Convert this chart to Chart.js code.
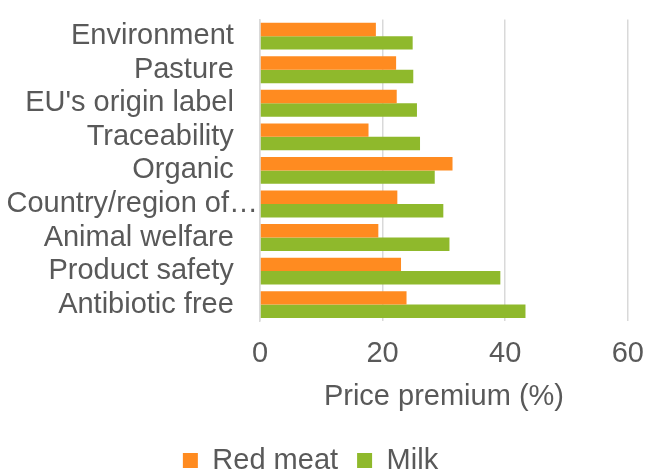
<!DOCTYPE html>
<html>
<head>
<meta charset="utf-8">
<script src="https://cdn.jsdelivr.net/npm/chart.js@4/dist/chart.umd.min.js"></script>
<style>
  html, body { margin: 0; padding: 0; background: #fff; }
  #wrap { width: 647px; height: 470px; position: relative; }
</style>
</head>
<body>
<div id="wrap"><canvas id="chart"></canvas></div>
<script>
const categories = [
    'Environment', 'Pasture', "EU's origin label", 'Traceability', 'Organic',
    'Country/region of\u2026', 'Animal welfare', 'Product safety', 'Antibiotic free'
];
const redMeat = [18.9, 22.2, 22.3, 17.7, 31.4, 22.4, 19.3, 23.0, 23.9];
const milk = [24.9, 25.0, 25.6, 26.1, 28.5, 29.9, 30.9, 39.2, 43.3];
const xTicks = [0, 20, 40, 60];

const textColor = '#595959';
const font = { family: "'Liberation Sans', Arial, sans-serif", size: 29 };

Chart.defaults.font.family = font.family;
Chart.defaults.color = textColor;

new Chart(document.getElementById('chart').getContext('2d'), {
    type: 'bar',
    data: {
        labels: categories,
        datasets: [
            {
                label: 'Red meat',
                data: redMeat,
                backgroundColor: '#FF8B20',
                categoryPercentage: 0.8,
                barPercentage: 1.0,
            },
            {
                label: 'Milk',
                data: milk,
                backgroundColor: '#8FB92C',
                categoryPercentage: 0.8,
                barPercentage: 1.0,
            },
        ],
    },
    options: {
        indexAxis: 'y',
        responsive: true,
        maintainAspectRatio: false,
        animation: false,
        // negative left padding shifts the centred legend a bit left, like the original
        layout: { padding: { top: 12, right: 0, left: -26, bottom: -15 } },
        plugins: {
            legend: {
                position: 'bottom',
                labels: {
                    color: textColor,
                    font: { ...font, lineHeight: 1 },
                    boxWidth: 15,
                    boxHeight: 15,
                    padding: 19,
                },
            },
            tooltip: { enabled: false },
        },
        scales: {
            x: {
                min: 0,
                max: 60,
                afterBuildTicks: axis => { axis.ticks = xTicks.map(v => ({ value: v })); },
                ticks: { color: textColor, font: font, padding: 3 },
                grid: { color: '#d9d9d9', lineWidth: 1.5, drawTicks: true, tickLength: 12, tickColor: 'rgba(0,0,0,0)' },
                border: { display: false },
                title: {
                    display: true,
                    text: 'Price premium (%)',
                    color: textColor,
                    font: font,
                    padding: { top: 5, bottom: 13 },
                },
            },
            y: {
                afterFit: axis => { axis.width = 286; },
                ticks: {
                    color: textColor,
                    font: font,
                    padding: 2,
                    autoSkip: false,
                    // long label overflows to the axis like in the original, others stop short
                    callback: function (v) {
                        const lbl = categories[v];
                        return lbl.endsWith('\u2026') ? lbl : lbl + '   ';
                    },
                },
                grid: { display: false, drawTicks: false },
                border: { display: true, color: '#d9d9d9', width: 1.5 },
            },
        },
    },
});
</script>
</body>
</html>
